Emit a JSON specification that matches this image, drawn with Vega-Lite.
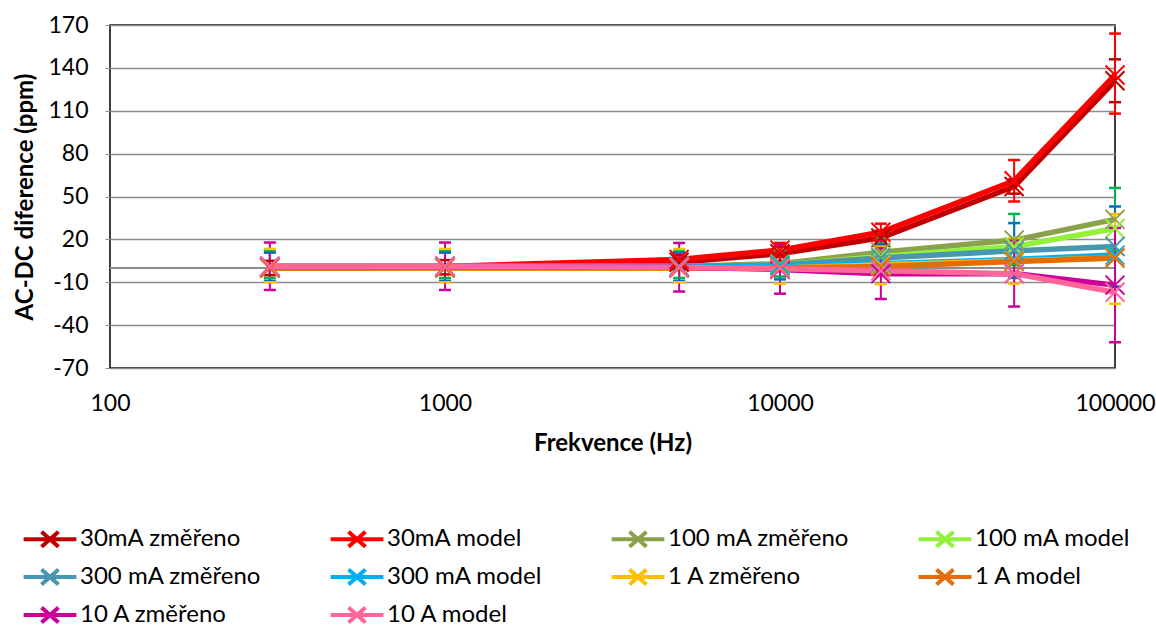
{
  "$schema": "https://vega.github.io/schema/vega-lite/v6.json",
  "width": 1005,
  "height": 343,
  "autosize": {"type": "none"},
  "padding": {"left": 110, "top": 25, "right": 41, "bottom": 258},
  "background": "white",
  "config": {
    "font": "Lato",
    "view": {"stroke": "#000000", "strokeWidth": 1.5},
    "axis": {"labelFont": "Lato", "titleFont": "Lato", "labelFontSize": 23, "titleFontSize": 24, "labelColor": "#000000", "titleColor": "#000000", "titleFontWeight": "bold"}
  },
  "datasets": {
    "d": [
      {"s": "30mA změřeno", "f": 300, "v": 0, "lo": -5, "hi": 5},
      {"s": "30mA změřeno", "f": 1000, "v": 0.5, "lo": -4.5, "hi": 5.5},
      {"s": "30mA změřeno", "f": 5000, "v": 4, "lo": -1, "hi": 9},
      {"s": "30mA změřeno", "f": 10000, "v": 10, "lo": 5, "hi": 15},
      {"s": "30mA změřeno", "f": 20000, "v": 21, "lo": 16, "hi": 26},
      {"s": "30mA změřeno", "f": 50000, "v": 57, "lo": 52, "hi": 62},
      {"s": "30mA změřeno", "f": 100000, "v": 131, "lo": 116, "hi": 146},
      {"s": "30mA model", "f": 300, "v": 0.5},
      {"s": "30mA model", "f": 1000, "v": 1},
      {"s": "30mA model", "f": 5000, "v": 6},
      {"s": "30mA model", "f": 10000, "v": 12.5, "lo": 7.5, "hi": 17.5},
      {"s": "30mA model", "f": 20000, "v": 25, "lo": 19, "hi": 31},
      {"s": "30mA model", "f": 50000, "v": 61, "lo": 46.5, "hi": 75.5},
      {"s": "30mA model", "f": 100000, "v": 135, "lo": 108, "hi": 164},
      {"s": "100 mA změřeno", "f": 300, "v": 1, "lo": -7, "hi": 12},
      {"s": "100 mA změřeno", "f": 1000, "v": 1, "lo": -7, "hi": 12},
      {"s": "100 mA změřeno", "f": 5000, "v": 1, "lo": -7, "hi": 12},
      {"s": "100 mA změřeno", "f": 10000, "v": 3, "lo": -6, "hi": 13},
      {"s": "100 mA změřeno", "f": 20000, "v": 11, "lo": 1, "hi": 21},
      {"s": "100 mA změřeno", "f": 50000, "v": 19.5, "lo": 2, "hi": 37.8},
      {"s": "100 mA změřeno", "f": 100000, "v": 34, "lo": 12, "hi": 56},
      {"s": "100 mA model", "f": 300, "v": 1},
      {"s": "100 mA model", "f": 1000, "v": 1},
      {"s": "100 mA model", "f": 5000, "v": 1},
      {"s": "100 mA model", "f": 10000, "v": 2},
      {"s": "100 mA model", "f": 20000, "v": 8},
      {"s": "100 mA model", "f": 50000, "v": 15},
      {"s": "100 mA model", "f": 100000, "v": 27.6},
      {"s": "300 mA změřeno", "f": 300, "v": 1, "lo": -9, "hi": 10.7},
      {"s": "300 mA změřeno", "f": 1000, "v": 1, "lo": -9, "hi": 10.7},
      {"s": "300 mA změřeno", "f": 5000, "v": 1, "lo": -9, "hi": 10.7},
      {"s": "300 mA změřeno", "f": 10000, "v": 2, "lo": -8, "hi": 12},
      {"s": "300 mA změřeno", "f": 20000, "v": 7, "lo": -3, "hi": 17},
      {"s": "300 mA změřeno", "f": 50000, "v": 12, "lo": -7, "hi": 31.4},
      {"s": "300 mA změřeno", "f": 100000, "v": 15, "lo": -13, "hi": 43},
      {"s": "300 mA model", "f": 300, "v": 1},
      {"s": "300 mA model", "f": 1000, "v": 1},
      {"s": "300 mA model", "f": 5000, "v": 1},
      {"s": "300 mA model", "f": 10000, "v": 1.5},
      {"s": "300 mA model", "f": 20000, "v": 3},
      {"s": "300 mA model", "f": 50000, "v": 6},
      {"s": "300 mA model", "f": 100000, "v": 9},
      {"s": "1 A změřeno", "f": 300, "v": 0, "lo": -10, "hi": 13.3},
      {"s": "1 A změřeno", "f": 1000, "v": 0, "lo": -10, "hi": 13.3},
      {"s": "1 A změřeno", "f": 5000, "v": 0, "lo": -10, "hi": 13.3},
      {"s": "1 A změřeno", "f": 10000, "v": 0, "lo": -11, "hi": 13},
      {"s": "1 A změřeno", "f": 20000, "v": 2, "lo": -11.4, "hi": 15},
      {"s": "1 A změřeno", "f": 50000, "v": 5, "lo": -11, "hi": 21},
      {"s": "1 A změřeno", "f": 100000, "v": 7, "lo": -25, "hi": 37.7},
      {"s": "1 A model", "f": 300, "v": 0},
      {"s": "1 A model", "f": 1000, "v": 0},
      {"s": "1 A model", "f": 5000, "v": 0},
      {"s": "1 A model", "f": 10000, "v": 0},
      {"s": "1 A model", "f": 20000, "v": 1},
      {"s": "1 A model", "f": 50000, "v": 4.5},
      {"s": "1 A model", "f": 100000, "v": 7},
      {"s": "10 A změřeno", "f": 300, "v": 1, "lo": -15.4, "hi": 17.8},
      {"s": "10 A změřeno", "f": 1000, "v": 1, "lo": -15.4, "hi": 17.8},
      {"s": "10 A změřeno", "f": 5000, "v": 0.5, "lo": -16.5, "hi": 17.5},
      {"s": "10 A změřeno", "f": 10000, "v": -1, "lo": -18, "hi": 16},
      {"s": "10 A změřeno", "f": 20000, "v": -4, "lo": -21.7, "hi": 13.7},
      {"s": "10 A změřeno", "f": 50000, "v": -4, "lo": -27, "hi": 19},
      {"s": "10 A změřeno", "f": 100000, "v": -12, "lo": -52, "hi": 28},
      {"s": "10 A model", "f": 300, "v": 1},
      {"s": "10 A model", "f": 1000, "v": 1},
      {"s": "10 A model", "f": 5000, "v": 0.5},
      {"s": "10 A model", "f": 10000, "v": -0.5},
      {"s": "10 A model", "f": 20000, "v": -2},
      {"s": "10 A model", "f": 50000, "v": -4},
      {"s": "10 A model", "f": 100000, "v": -17}
    ]
  },
  "data": {"name": "d"},
  "encoding": {
    "x": {
      "field": "f", "type": "quantitative",
      "scale": {"type": "log", "domain": [100, 100000], "nice": false},
      "axis": {"title": "Frekvence (Hz)", "values": [100, 1000, 10000, 100000], "labelExpr": "'' + datum.value", "grid": false, "ticks": false, "domain": false, "labelPadding": 24, "titlePadding": 16, "labelFlush": false}
    }
  },
  "layer": [
    {
      "mark": {"type": "rule", "color": "#8c8c8c", "strokeWidth": 1.5},
      "encoding": {"y": {"datum": 0, "type": "quantitative"}, "x": null}
    },
    {
      "mark": {"type": "line", "strokeWidth": 5.5},
      "encoding": {
        "y": {
          "field": "v", "type": "quantitative",
          "scale": {"domain": [-70, 170], "nice": false, "zero": false},
          "axis": {"title": "AC-DC diference  (ppm)", "values": [-70, -40, -10, 20, 50, 80, 110, 140, 170], "labelExpr": "'' + datum.value", "grid": true, "gridColor": "#8c8c8c", "gridWidth": 1.5, "domain": false, "tickSize": 5, "tickColor": "#8c8c8c", "labelPadding": 17, "titlePadding": 10}
        },
        "color": {
          "field": "s", "type": "nominal",
          "scale": {
            "domain": ["30mA změřeno", "30mA model", "100 mA změřeno", "100 mA model", "300 mA změřeno", "300 mA model", "1 A změřeno", "1 A model", "10 A změřeno", "10 A model"],
            "range": ["#C00000", "#FF0000", "#8BA24C", "#92F23A", "#4797B1", "#00B0F0", "#FFC000", "#E46C0A", "#CC0099", "#FF6699"]
          },
          "legend": {
            "title": null, "orient": "none", "legendX": -90, "legendY": 502, "columns": 4, "direction": "horizontal",
            "gridAlign": "each", "columnPadding": 60, "rowPadding": 6,
            "symbolType": "M-3.3,0L3.3,0M-1.06,-0.94L1.06,0.94M-1.06,0.94L1.06,-0.94",
            "symbolSize": 256, "symbolStrokeWidth": 4, "symbolFillColor": "transparent", "symbolOffset": 18,
            "labelFont": "Lato", "labelFontSize": 24, "labelColor": "#000000", "labelLimit": 400, "labelOffset": 18
          }
        }
      }
    },
    {
      "transform": [{"filter": "isValid(datum.lo)"}],
      "mark": {"type": "rule", "strokeWidth": 2},
      "encoding": {
        "y": {"field": "lo", "type": "quantitative"},
        "y2": {"field": "hi"},
        "stroke": {
          "field": "s", "type": "nominal", "legend": null,
          "scale": {
            "domain": ["30mA změřeno", "30mA model", "100 mA změřeno", "300 mA změřeno", "1 A změřeno", "10 A změřeno"],
            "range": ["#C00000", "#FF0000", "#00B050", "#0070C0", "#FFC000", "#CC0099"]
          }
        }
      }
    },
    {
      "transform": [{"filter": "isValid(datum.lo)"}],
      "mark": {"type": "point", "shape": "M-1,0L1,0", "filled": false, "size": 144, "strokeWidth": 2.5, "opacity": 1},
      "encoding": {
        "y": {"field": "lo", "type": "quantitative"},
        "stroke": {"field": "s", "type": "nominal", "legend": null}
      }
    },
    {
      "transform": [{"filter": "isValid(datum.hi)"}],
      "mark": {"type": "point", "shape": "M-1,0L1,0", "filled": false, "size": 144, "strokeWidth": 2.5, "opacity": 1},
      "encoding": {
        "y": {"field": "hi", "type": "quantitative"},
        "stroke": {"field": "s", "type": "nominal", "legend": null}
      }
    },
    {
      "mark": {"type": "point", "shape": "M-1,-1L1,1M-1,1L1,-1", "filled": false, "size": 360, "strokeWidth": 2, "opacity": 1},
      "encoding": {
        "y": {"field": "v", "type": "quantitative"},
        "color": {"field": "s", "type": "nominal"}
      }
    }
  ]
}
